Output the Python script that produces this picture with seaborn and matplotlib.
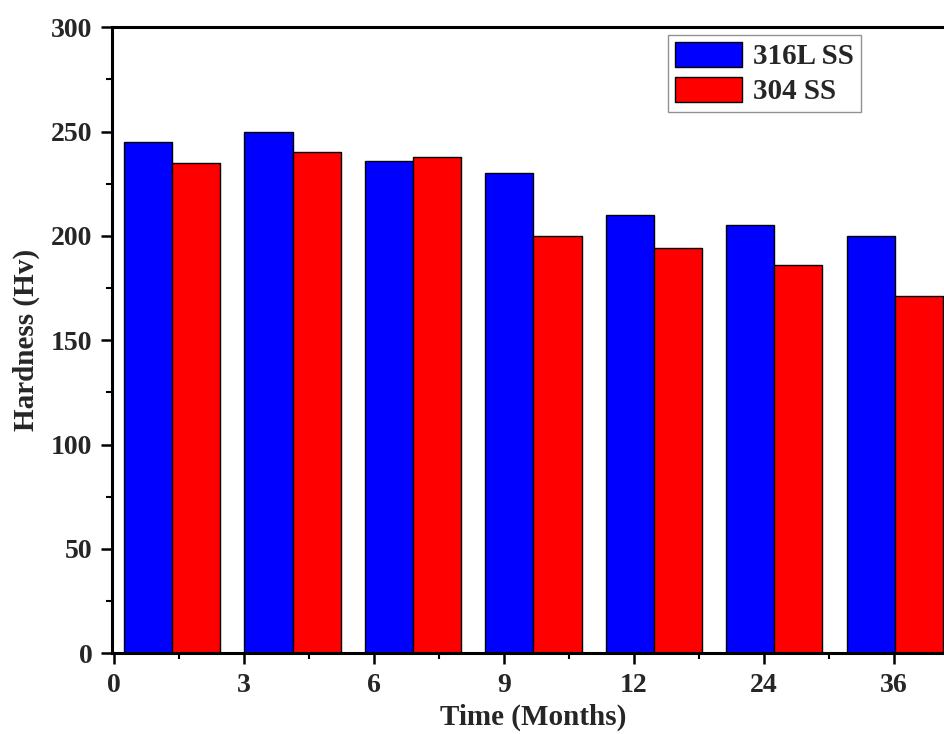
# Hardness of 316L SS vs 304 SS over time - grouped bars
import matplotlib
matplotlib.use("Agg")
import matplotlib.pyplot as plt
from matplotlib.ticker import FixedLocator
import seaborn as sns
import numpy as np
import pandas as pd

# Data
time_labels = ["0", "3", "6", "9", "12", "24", "36"]
hardness_316L = [245, 250, 236, 230, 210, 205, 200]
hardness_304 = [235, 240, 238, 200, 194, 186, 171]
series_names = ["316L SS", "304 SS"]

df = pd.DataFrame({
    "Time": time_labels * 2,
    "Hardness": hardness_316L + hardness_304,
    "Alloy": [series_names[0]] * len(time_labels) + [series_names[1]] * len(time_labels),
})

sns.set_style("ticks")
plt.rcParams["font.family"] = ["Liberation Serif", "DejaVu Serif"]
plt.rcParams["font.weight"] = "bold"

fig = plt.figure(figsize=(9.44, 7.34), dpi=100)
# right edge runs past the picture, like the cropped original
ax = fig.add_axes([0.1186, 0.110, 0.893, 0.853])

sns.barplot(data=df, x="Time", y="Hardness", hue="Alloy",
            palette=["#0000ff", "#ff0000"], edgecolor="black", linewidth=1.0,
            width=0.8, saturation=1, ax=ax)

ax.set_xlim(-0.5, 6.5)
ax.set_ylim(0, 300)

# the x ticks don't line up with the bar groups in the original (Origin export)
step = 1.08
major = -0.485 + step * np.arange(len(time_labels))
ax.set_xticks(major)
ax.set_xticklabels(time_labels)
ax.xaxis.set_minor_locator(FixedLocator(major[:-1] + step / 2))

ax.set_yticks(np.arange(0, 301, 50))
ax.yaxis.set_minor_locator(FixedLocator(np.arange(25, 300, 50)))

ax.tick_params(axis="both", which="major", direction="out", length=8, width=1.8,
               labelsize=20, pad=6, color="black")
ax.tick_params(axis="both", which="minor", direction="out", length=4.5, width=1.5,
               color="black")
for lab in ax.get_xticklabels() + ax.get_yticklabels():
    lab.set_fontweight("bold")

for side in ["left", "bottom", "top", "right"]:
    ax.spines[side].set_visible(True)
    ax.spines[side].set_linewidth(2.2)
    ax.spines[side].set_color("black")

ax.set_xlabel("Time (Months)", fontsize=21, fontweight="bold", labelpad=4)
ax.set_ylabel("Hardness (Hv)", fontsize=21, fontweight="bold", labelpad=8)

leg = ax.legend(loc="upper left", bbox_to_anchor=(0.66, 0.987), fontsize=21,
                frameon=True, fancybox=False, edgecolor="#777777",
                handlelength=2.3, handleheight=0.95, handletextpad=0.4,
                borderpad=0.22, labelspacing=0.22, borderaxespad=0)
leg.get_frame().set_linewidth(1.0)
for t in leg.get_texts():
    t.set_fontweight("bold")

fig.savefig("out.png", dpi=100)
